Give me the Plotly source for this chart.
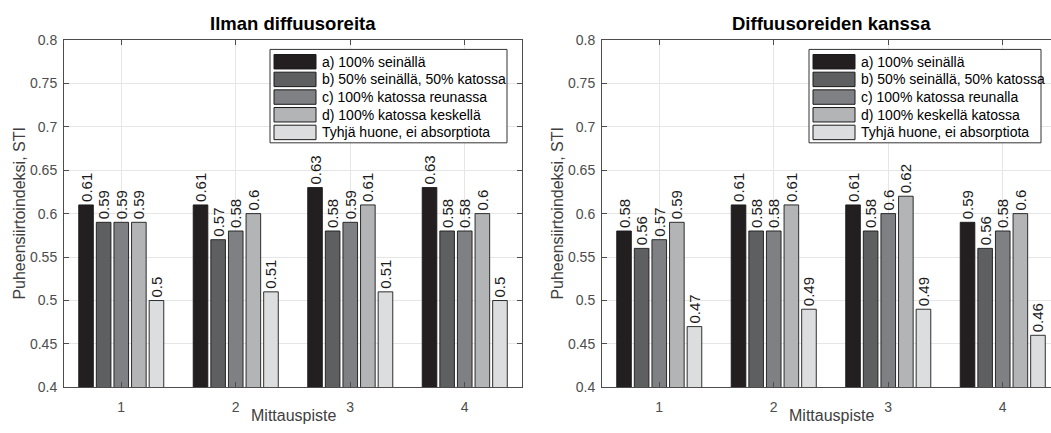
import plotly.graph_objects as go

W, H = 1051, 433

# ---------------- data ----------------
points = [1, 2, 3, 4]
point_labels = ["1", "2", "3", "4"]

names_left = ["a) 100% seinällä", "b) 50% seinällä, 50% katossa", "c) 100% katossa reunassa",
              "d) 100% katossa keskellä", "Tyhjä huone, ei absorptiota"]
names_right = ["a) 100% seinällä", "b) 50% seinällä, 50% katossa", "c) 100% katossa reunalla",
               "d) 100% keskellä katossa", "Tyhjä huone, ei absorptiota"]

left_a = [0.61, 0.61, 0.63, 0.63]
left_b = [0.59, 0.57, 0.58, 0.58]
left_c = [0.59, 0.58, 0.59, 0.58]
left_d = [0.59, 0.60, 0.61, 0.60]
left_e = [0.50, 0.51, 0.51, 0.50]

right_a = [0.58, 0.61, 0.61, 0.59]
right_b = [0.56, 0.58, 0.58, 0.56]
right_c = [0.57, 0.58, 0.60, 0.58]
right_d = [0.59, 0.61, 0.62, 0.60]
right_e = [0.47, 0.49, 0.49, 0.46]

titles = ["Ilman diffuusoreita", "Diffuusoreiden kanssa"]
x_title = "Mittauspiste"
y_title = "Puheensiirtoindeksi, STI"
y_ticks = [0.4, 0.45, 0.5, 0.55, 0.6, 0.65, 0.7, 0.75, 0.8]

colors = ["#231f20", "#5e5f61", "#7f8083", "#b3b4b6", "#dcdddf"]

FONT = "Liberation Sans, Arial, Helvetica, sans-serif"

def px(x):
    return x / W

def py(y):
    return 1 - y / H

fig = go.Figure()

left_series = [left_a, left_b, left_c, left_d, left_e]
right_series = [right_a, right_b, right_c, right_d, right_e]

def fmt(v):
    s = f"{v:.2f}".rstrip("0").rstrip(".")
    return s

for series, names, xa, ya in [(left_series, names_left, "x", "y"), (right_series, names_right, "x2", "y2")]:
    for vals, name, col in zip(series, names, colors):
        fig.add_trace(go.Bar(
            x=points, y=vals, name=name, xaxis=xa, yaxis=ya,
            marker=dict(color=col, line=dict(color="#1a1a1a", width=0.9)),
            text=[fmt(v) for v in vals], textposition="outside", textangle=-90,
            textfont=dict(family=FONT, size=15, color="#1a1a1a"),
            constraintext="none", cliponaxis=False, showlegend=False,
        ))

# ---------------- layout ----------------
L0, L1 = 64, 522
R0 = 602
unit = (L1 - L0) / 4.0
R_end = 0.5 + (W - R0) / unit
TOP, BOT = 33, 394

axis_common = dict(
    showline=True, linecolor="#4d4d4d", linewidth=1,
    ticks="inside", ticklen=5, tickcolor="#4d4d4d",
    tickfont=dict(family=FONT, size=14, color="#4d4d4d"),
    showgrid=True, gridcolor="#e6e6e6", gridwidth=1, zeroline=False,
)

fig.update_layout(
    width=W, height=H, autosize=False,
    margin=dict(l=0, r=0, t=0, b=0),
    paper_bgcolor="white", plot_bgcolor="white",
    barmode="group", bargap=0.231, bargroupgap=0.17,
    xaxis=dict(domain=[px(L0), px(L1)], range=[0.5, 4.5], tickvals=points, ticktext=point_labels,
               mirror="ticks", anchor="y", ticklabelstandoff=7, **axis_common),
    yaxis=dict(domain=[py(BOT), py(TOP)], range=[0.4, 0.8], tickvals=y_ticks,
               ticktext=[fmt(v) for v in y_ticks], mirror="ticks", anchor="x",
               ticklabelstandoff=3, **axis_common),
    xaxis2=dict(domain=[px(R0), 1.0], range=[0.5, R_end], tickvals=points, ticktext=point_labels,
                mirror="ticks", anchor="y2", ticklabelstandoff=7, **axis_common),
    yaxis2=dict(domain=[py(BOT), py(TOP)], range=[0.4, 0.8], tickvals=y_ticks,
                ticktext=[fmt(v) for v in y_ticks], mirror=False, anchor="x2",
                ticklabelstandoff=3, **axis_common),
)

annotations = []
shapes = []
centers = [(L0 + L1) / 2, R0 + 2 * unit]
ylab_x = [20, R0 - 44]
for i in range(2):
    annotations.append(dict(x=px(centers[i]), y=py(16), xref="paper", yref="paper",
                            text=f"<b>{titles[i]}</b>", showarrow=False,
                            font=dict(family=FONT, size=18.5, color="#000000"),
                            xanchor="center", yanchor="middle"))
    annotations.append(dict(x=px(centers[i]), y=py(423), xref="paper", yref="paper",
                            text=x_title, showarrow=False,
                            font=dict(family=FONT, size=16, color="#404040"),
                            xanchor="center", yanchor="middle"))
    annotations.append(dict(x=px(ylab_x[i]), y=py((TOP + BOT) / 2), xref="paper", yref="paper",
                            text=y_title, showarrow=False, textangle=-90,
                            font=dict(family=FONT, size=16, color="#404040"),
                            xanchor="center", yanchor="middle"))

# manual legends (MATLAB style)
legends = [(270, 507, names_left), (809, 1041, names_right)]
for bx0, bx1, names in legends:
    shapes.append(dict(type="rect", xref="paper", yref="paper",
                       x0=px(bx0), x1=px(bx1), y0=py(140), y1=py(43),
                       line=dict(color="#333333", width=1), fillcolor="white", layer="above"))
    for k, (name, col) in enumerate(zip(names, colors)):
        top = 48.3 + k * 18.35
        shapes.append(dict(type="rect", xref="paper", yref="paper",
                           x0=px(bx0 + 4), x1=px(bx0 + 46), y0=py(top + 15), y1=py(top),
                           line=dict(color="#1a1a1a", width=1), fillcolor=col, layer="above"))
        annotations.append(dict(x=px(bx0 + 50), y=py(top + 7.5), xref="paper", yref="paper",
                                text=name, showarrow=False, xanchor="left", yanchor="middle",
                                font=dict(family=FONT, size=14, color="#000000")))

fig.update_layout(annotations=annotations, shapes=shapes)

fig.write_html("out.html")
